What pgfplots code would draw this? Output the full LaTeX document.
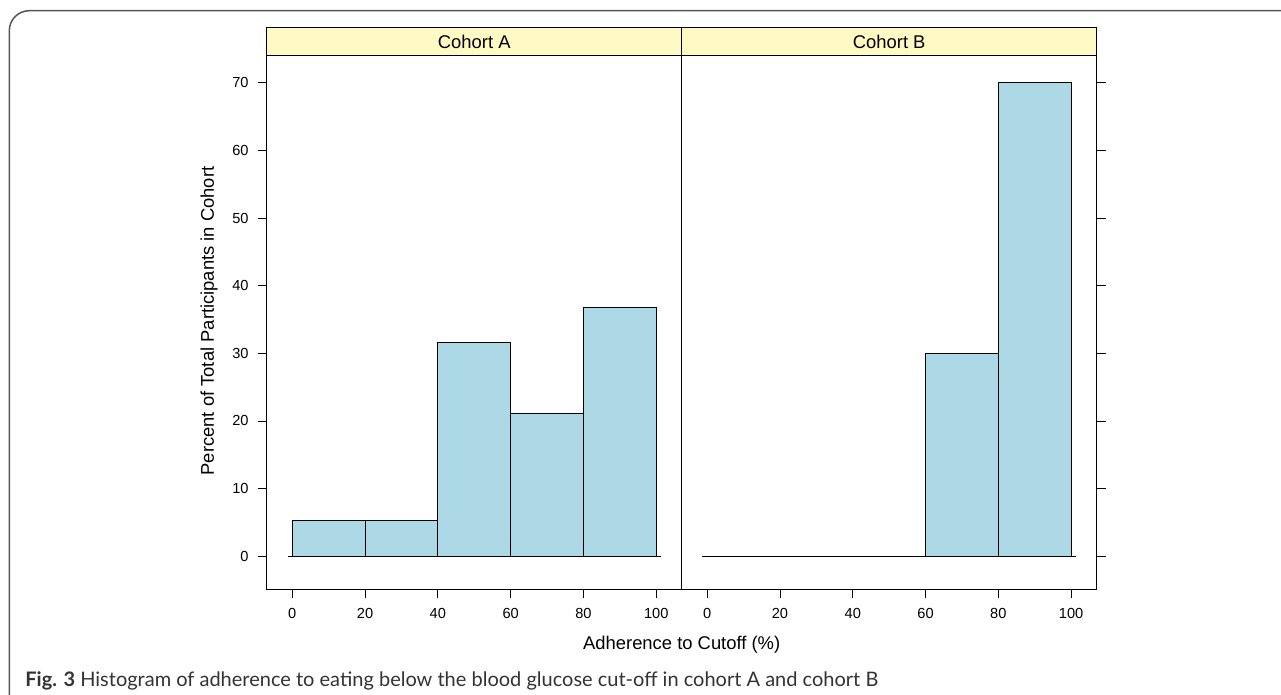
\documentclass[border=0pt]{standalone}
\usepackage{fontspec}
\setmainfont{Liberation Sans}
\newfontfamily\capfont{Lato}
\usepackage{pgfplots}
\pgfplotsset{compat=1.18}
\definecolor{barblue}{HTML}{ADD8E6}
\definecolor{stripyel}{HTML}{FFF9C3}
\definecolor{framegray}{HTML}{555555}
\definecolor{captext}{HTML}{333333}
\pgfplotsset{
  hist/.style={
    scale only axis, width=207.45pt, height=266.8pt,
    anchor=south west,
    xmin=-7, xmax=107, ymin=-4.9, ymax=74,
    xtick={0,20,...,100}, ytick={0,10,...,70},
    tick align=outside, major tick length=4.5pt,
    xtick pos=bottom,
    axis line style={black, line width=0.5pt},
    tick style={black, line width=0.4pt},
    tick label style={font=\fontsize{7.3}{8}\selectfont, inner sep=0pt},
    /pgf/number format/assume math mode=true,
    xticklabel style={yshift=-4.7pt},
    yticklabel style={xshift=-4.4pt},
  }
}
\begin{document}
\begin{tikzpicture}
\begin{scope}[x=0.5pt,y=-0.5pt]
\path[use as bounding box] (0,0) rectangle (1281,695);
\draw[framegray, line width=0.75pt, rounded corners=10pt] (9.3,10.7) rectangle (1320,740);
\end{scope}

\begin{axis}[hist, at={(133.4pt,-294.65pt)}, ytick pos=left]
  \addplot[ybar interval, fill=barblue, draw=black, line width=0.4pt]
    coordinates {(0,5.263) (20,5.263) (40,31.579) (60,21.053) (80,36.842) (100,36.842)};
  \addplot[black, line width=0.5pt] coordinates {(-1.3,0) (101.3,0)};
\end{axis}

\begin{axis}[hist, at={(340.85pt,-294.65pt)}, ytick pos=right, yticklabels={}]
  \addplot[ybar interval, fill=barblue, draw=black, line width=0.4pt]
    coordinates {(0,0) (20,0) (40,0) (60,30) (80,70) (100,70)};
  \addplot[black, line width=0.5pt] coordinates {(-1.3,0) (101.3,0)};
\end{axis}

\begin{scope}[x=0.5pt,y=-0.5pt]
\draw[black, line width=0.5pt, fill=stripyel] (266.8,27.3) rectangle (681.7,55.7);
\draw[black, line width=0.5pt, fill=stripyel] (681.7,27.3) rectangle (1096.7,55.7);
\node[anchor=base, inner sep=0pt, font=\fontsize{9.2}{11}\selectfont] at (474.25,48.2) {Cohort A};
\node[anchor=base, inner sep=0pt, font=\fontsize{9.2}{11}\selectfont] at (889.2,48.2) {Cohort B};

\node[anchor=base, inner sep=0pt, font=\fontsize{9.2}{11}\selectfont] at (681.7,649.2) {Adherence to Cutoff (\%)};
\node[anchor=base, rotate=90, inner sep=0pt, font=\fontsize{9.2}{11}\selectfont] at (213.9,321) {Percent of Total Participants in Cohort};

\node[anchor=base west, inner sep=0pt, font=\capfont\fontsize{10}{12}\selectfont, text=captext] at (25,686)
  {\textbf{Fig. 3} Histogram of adherence to eating below the blood glucose cut-off in cohort A and cohort B};
\end{scope}
\end{tikzpicture}
\end{document}
